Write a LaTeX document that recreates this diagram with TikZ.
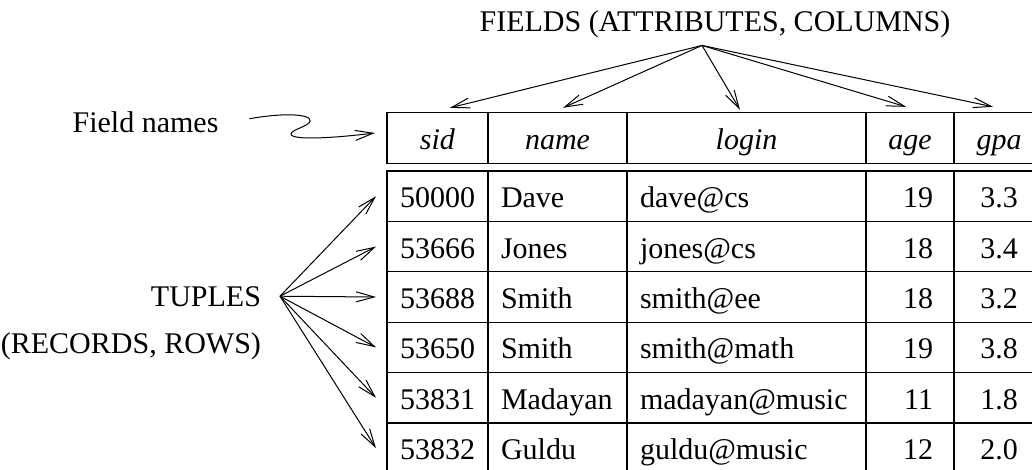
\documentclass[tikz,border=0pt]{standalone}
\usepackage{fontspec}
\setmainfont{Liberation Serif}
\usepackage{tikz}
\usetikzlibrary{calc}
\usetikzlibrary{arrows.meta}
\tikzstyle{cell} = [draw, rectangle, line width=0.6pt, outer sep=0pt, inner ysep=0pt, minimum height=25.2pt, text height=11.5pt, text depth=0pt]
\tikzstyle{sidcol} = [inner xsep=6.5pt, text width=37.5pt, align=left]
\tikzstyle{namecol} = [inner xsep=6.5pt, text width=56.5pt, align=left]
\tikzstyle{logincol} = [inner xsep=6.5pt, text width=106.5pt, align=left]
\tikzstyle{agecol} = [inner xsep=10.5pt, text width=23pt, align=right]
\tikzstyle{gpacol} = [inner xsep=6.5pt, text width=32pt, align=center]
\tikzstyle{pointer} = [-{Straight Barb[length=9pt,width=5pt]}, line width=0.5pt]

\begin{document}
\begin{tikzpicture}[x=0.5pt, y=-0.5pt, font=\fontsize{15pt}{18pt}\selectfont]
\useasboundingbox (0,0) rectangle (1032,470);

\node[cell, sidcol, align=center] (h_sid) at (437.5,138) {\textit{sid}};
\node[cell, namecol, align=center, anchor=west] (h_name) at (h_sid.east) {\textit{name}};
\node[cell, logincol, align=center, anchor=west] (h_login) at (h_name.east) {\textit{login}};
\node[cell, agecol, align=center, anchor=west] (h_age) at (h_login.east) {\textit{age}};
\node[cell, gpacol, anchor=west] (h_gpa) at (h_age.east) {\textit{gpa}};

\node[cell, sidcol] (r1_sid) at ($(h_sid)+(0,58.2)$) {50000};
\node[cell, namecol, anchor=west] (r1_name) at (r1_sid.east) {Dave};
\node[cell, logincol, anchor=west] (r1_login) at (r1_name.east) {dave@cs};
\node[cell, agecol, anchor=west] (r1_age) at (r1_login.east) {19};
\node[cell, gpacol, anchor=west] (r1_gpa) at (r1_age.east) {3.3};

\node[cell, sidcol] (r2_sid) at ($(r1_sid)+(0,50.4)$) {53666};
\node[cell, namecol, anchor=west] (r2_name) at (r2_sid.east) {Jones};
\node[cell, logincol, anchor=west] (r2_login) at (r2_name.east) {jones@cs};
\node[cell, agecol, anchor=west] (r2_age) at (r2_login.east) {18};
\node[cell, gpacol, anchor=west] (r2_gpa) at (r2_age.east) {3.4};

\node[cell, sidcol] (r3_sid) at ($(r2_sid)+(0,50.4)$) {53688};
\node[cell, namecol, anchor=west] (r3_name) at (r3_sid.east) {Smith};
\node[cell, logincol, anchor=west] (r3_login) at (r3_name.east) {smith@ee};
\node[cell, agecol, anchor=west] (r3_age) at (r3_login.east) {18};
\node[cell, gpacol, anchor=west] (r3_gpa) at (r3_age.east) {3.2};

\node[cell, sidcol] (r4_sid) at ($(r3_sid)+(0,50.4)$) {53650};
\node[cell, namecol, anchor=west] (r4_name) at (r4_sid.east) {Smith};
\node[cell, logincol, anchor=west] (r4_login) at (r4_name.east) {smith@math};
\node[cell, agecol, anchor=west] (r4_age) at (r4_login.east) {19};
\node[cell, gpacol, anchor=west] (r4_gpa) at (r4_age.east) {3.8};

\node[cell, sidcol] (r5_sid) at ($(r4_sid)+(0,50.4)$) {53831};
\node[cell, namecol, anchor=west] (r5_name) at (r5_sid.east) {Madayan};
\node[cell, logincol, anchor=west] (r5_login) at (r5_name.east) {madayan@music};
\node[cell, agecol, anchor=west] (r5_age) at (r5_login.east) {11};
\node[cell, gpacol, anchor=west] (r5_gpa) at (r5_age.east) {1.8};

\node[cell, sidcol] (r6_sid) at ($(r5_sid)+(0,50.4)$) {53832};
\node[cell, namecol, anchor=west] (r6_name) at (r6_sid.east) {Guldu};
\node[cell, logincol, anchor=west] (r6_login) at (r6_name.east) {guldu@music};
\node[cell, agecol, anchor=west] (r6_age) at (r6_login.east) {12};
\node[cell, gpacol, anchor=west] (r6_gpa) at (r6_age.east) {2.0};

\node[anchor=base] (fields) at (715,32) {FIELDS (ATTRIBUTES, COLUMNS)};
\coordinate (fsrc) at ($(fields.south)+(-13,0)$);
\draw[pointer] (fsrc) -- ($(h_sid.north)+(12.5,-5)$);
\draw[pointer] (fsrc) -- ($(h_name.north)+(5.5,-5)$);
\draw[pointer] (fsrc) -- ($(h_login.north)+(-6.5,-3)$);
\draw[pointer] (fsrc) -- ($(h_age.north)+(-4,-6)$);
\draw[pointer] (fsrc) -- ($(h_gpa.north)+(-6,-6)$);

\node[anchor=base] (fieldnames) at (145.5,133) {Field names};
\draw[pointer] ($(fieldnames.east)+(24,-4)$) .. controls ($(fieldnames.east)+(75,-13)$) and ($(fieldnames.east)+(100,-5)$) .. ($(fieldnames.east)+(75,5)$) .. controls ($(fieldnames.east)+(50,15)$) and ($(h_sid.west)+(-87,4)$) .. ($(h_sid.west)+(-12,-5)$);

\node[anchor=base east] (tuples) at (268,306) {TUPLES};
\node[anchor=base east] (records) at ($(tuples.base east)+(0,47)$) {(RECORDS, ROWS)};
\coordinate (tsrc) at ($(tuples.east)+(12,0)$);
\draw[pointer] (tsrc) -- ($(r1_sid.west)+(-11,0)$);
\draw[pointer] (tsrc) -- ($(r2_sid.west)+(-11,0)$);
\draw[pointer] (tsrc) -- ($(r3_sid.west)+(-11,0)$);
\draw[pointer] (tsrc) -- ($(r4_sid.west)+(-11,0)$);
\draw[pointer] (tsrc) -- ($(r5_sid.west)+(-11,0)$);
\draw[pointer] (tsrc) -- ($(r6_sid.west)+(-11,0)$);
\end{tikzpicture}
\end{document}
